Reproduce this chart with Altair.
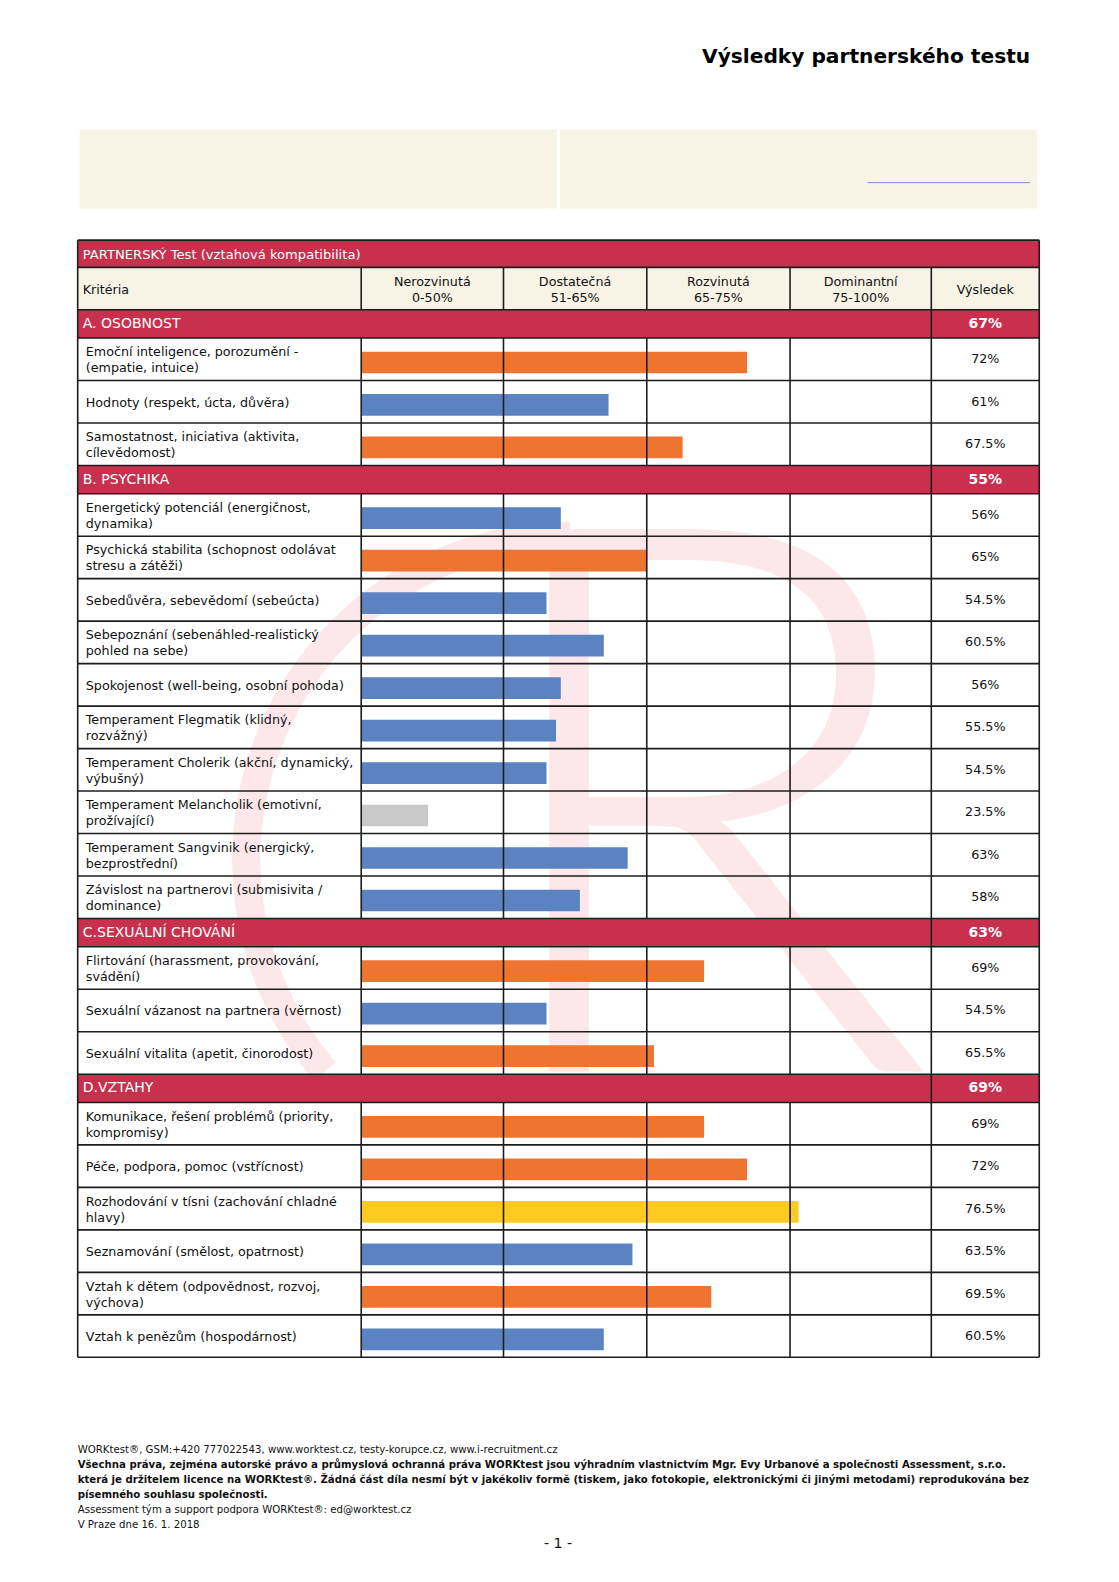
import altair as alt
import pandas as pd

# ---------------- data ----------------
report_title = "Výsledky partnerského testu"
table_title = "PARTNERSKÝ Test (vztahová kompatibilita)"
criteria_header = "Kritéria"
result_header = "Výsledek"
band_labels = ["Nerozvinutá\n0-50%", "Dostatečná\n51-65%", "Rozvinutá\n65-75%", "Dominantní\n75-100%"]
band_breaks = [0, 50, 65, 75, 100]

section_names = ["A. OSOBNOST", "B. PSYCHIKA", "C.SEXUÁLNÍ CHOVÁNÍ", "D.VZTAHY"]
section_scores = [67, 55, 63, 69]

criteria_A = [
    "Emoční inteligence, porozumění -\n(empatie, intuice)",
    "Hodnoty (respekt, úcta, důvěra)",
    "Samostatnost, iniciativa (aktivita,\ncílevědomost)",
]
scores_A = [72, 61, 67.5]

criteria_B = [
    "Energetický potenciál (energičnost,\ndynamika)",
    "Psychická stabilita (schopnost odolávat\nstresu a zátěži)",
    "Sebedůvěra, sebevědomí (sebeúcta)",
    "Sebepoznání (sebenáhled-realistický\npohled na sebe)",
    "Spokojenost (well-being, osobní pohoda)",
    "Temperament Flegmatik (klidný,\nrozvážný)",
    "Temperament Cholerik (akční, dynamický,\nvýbušný)",
    "Temperament Melancholik (emotivní,\nprožívající)",
    "Temperament Sangvinik (energický,\nbezprostřední)",
    "Závislost na partnerovi (submisivita /\ndominance)",
]
scores_B = [56, 65, 54.5, 60.5, 56, 55.5, 54.5, 23.5, 63, 58]

criteria_C = [
    "Flirtování (harassment, provokování,\nsvádění)",
    "Sexuální vázanost na partnera (věrnost)",
    "Sexuální vitalita (apetit, činorodost)",
]
scores_C = [69, 54.5, 65.5]

criteria_D = [
    "Komunikace, řešení problémů (priority,\nkompromisy)",
    "Péče, podpora, pomoc (vstřícnost)",
    "Rozhodování v tísni (zachování chladné\nhlavy)",
    "Seznamování (smělost, opatrnost)",
    "Vztah k dětem (odpovědnost, rozvoj,\nvýchova)",
    "Vztah k penězům (hospodárnost)",
]
scores_D = [69, 72, 76.5, 63.5, 69.5, 60.5]

footer_lines = [
    "WORKtest®, GSM:+420 777022543, www.worktest.cz, testy-korupce.cz, www.i-recruitment.cz",
    "Všechna práva, zejména autorské právo a průmyslová ochranná práva WORKtest jsou výhradním vlastnictvím Mgr. Evy Urbanové a společnosti Assessment, s.r.o.",
    "která je držitelem licence na WORKtest®. Žádná část díla nesmí být v jakékoliv formě (tiskem, jako fotokopie, elektronickými či jinými metodami) reprodukována bez",
    "písemného souhlasu společnosti.",
    "Assessment tým a support podpora WORKtest®: ed@worktest.cz",
    "V Praze dne 16. 1. 2018",
]
footer_bold = [False, True, True, True, False, False]
page_label = "- 1 -"

# ---------------- style / layout ----------------
K = 1.009          # compensates the slight down-scaling of the page photo
W, H = 1100, 1560
OFF = 8
FONT = "DejaVu Sans"
FOOT_FONT = "DejaVu Sans Condensed, Liberation Sans Narrow, DejaVu Sans"
CRIMSON = "#c8304e"
CREAM = "#f8f4e5"
LINE = "#1c1c1c"
BAR_COLORS = ["#c9c9c9", "#5b83c1", "#ee7432", "#fdca22"]
LH = 16


def px(v):
    return v * K - OFF


def fs(v):
    return round(v * K, 2)


def block_y(mid, text):
    # y of first line so that a multi-line block is centred on mid
    n = text.count("\n") + 1
    return mid - (n - 1) * LH / 2


TBL_L, TBL_R, RES_L = 77, 1030, 923
RES_C = (RES_L + TBL_R) / 2
TITLE_TOP, TITLE_H, HEAD_H, SEC_H, ROW_H = 238, 27, 42, 28, 42.1

yscale = alt.Scale(domain=[0, 2000], range=[px(0), px(2000)], nice=False, zero=False)
xscale = alt.Scale(domain=band_breaks, range=[px(358), px(499), px(641), px(783), px(923)],
                   nice=False, zero=False)

# build table rows
head_top = TITLE_TOP + TITLE_H
cur = head_top + HEAD_H
hlines = [TITLE_TOP, head_top, cur]
blocks = [(head_top, cur)]
sec_rows, item_rows = [], []
all_criteria = [criteria_A, criteria_B, criteria_C, criteria_D]
all_scores = [scores_A, scores_B, scores_C, scores_D]
for name, ssc, crit, scs in zip(section_names, section_scores, all_criteria, all_scores):
    sec_rows.append(dict(name=name, res=f"{ssc:g}%", top=cur, bot=cur + SEC_H, mid=cur + SEC_H / 2))
    cur += SEC_H
    hlines.append(cur)
    start = cur
    for lab, s in zip(crit, scs):
        mid = cur + ROW_H / 2
        item_rows.append(dict(label=lab, score=s, res=f"{s:g}%", top=cur, bot=cur + ROW_H,
                              mid=mid, ly=block_y(mid + 1, lab), btop=cur + 13.5, bbot=cur + 35))
        cur += ROW_H
        hlines.append(cur)
    blocks.append((start, cur))
table_bot = cur

sec_df = pd.DataFrame(sec_rows)
item_df = pd.DataFrame(item_rows)
hl_df = pd.DataFrame({"y": hlines})
vl_df = pd.DataFrame([dict(v=b, top=t, bot=bt) for (t, bt) in blocks for b in band_breaks[:-1]])
vres_df = pd.DataFrame([dict(v=band_breaks[-1], top=head_top, bot=table_bot)])
vedge_df = pd.DataFrame([dict(top=TITLE_TOP, bot=table_bot)])
band_df = pd.DataFrame({"label": band_labels,
                        "c": [(a + b) / 2 for a, b in zip(band_breaks[:-1], band_breaks[1:])],
                        "y": [block_y(head_top + HEAD_H / 2 + 1, t) for t in band_labels]})
one = pd.DataFrame({"k": [0]})

Y = lambda f: alt.Y(f, scale=yscale, axis=None)

layers = []

# watermark
WM = "#fce7ea"
layers.append(alt.Chart(one).mark_arc(color=WM, radius=335 * K, radius2=307 * K,
                                       theta=4.0, theta2=6.283).encode(
    x=alt.value(px(565)), y=alt.value(px(852))))
layers.append(alt.Chart(one).mark_text(text="R", font="Lato", fontWeight=300, fontSize=fs(760),
                                        color=WM, align="left", baseline="alphabetic").encode(
    x=alt.value(px(465)), y=alt.value(px(1062))))

# title
layers.append(alt.Chart(one).mark_text(text=report_title, font=FONT, fontWeight="bold", fontSize=fs(20),
                                        align="right", baseline="middle", color="#000").encode(
    x=alt.value(px(1021)), y=alt.value(px(56))))

# info box
layers.append(alt.Chart(one).mark_rect(color=CREAM).encode(
    x=alt.value(px(79)), x2=alt.value(px(552)), y=alt.value(px(128)), y2=alt.value(px(207))))
layers.append(alt.Chart(one).mark_rect(color=CREAM).encode(
    x=alt.value(px(555)), x2=alt.value(px(1028)), y=alt.value(px(128)), y2=alt.value(px(207))))
layers.append(alt.Chart(one).mark_rule(color="#8585e0", strokeWidth=1).encode(
    x=alt.value(px(860)), x2=alt.value(px(1021)), y=alt.value(px(181))))

# table backgrounds
layers.append(alt.Chart(one).mark_rect(color=CRIMSON).encode(
    x=alt.value(px(TBL_L)), x2=alt.value(px(TBL_R)), y=alt.value(px(TITLE_TOP)), y2=alt.value(px(head_top))))
layers.append(alt.Chart(one).mark_rect(color=CREAM).encode(
    x=alt.value(px(TBL_L)), x2=alt.value(px(TBL_R)), y=alt.value(px(head_top)), y2=alt.value(px(head_top + HEAD_H))))
layers.append(alt.Chart(sec_df).mark_rect(color=CRIMSON).encode(
    x=alt.value(px(TBL_L)), x2=alt.value(px(TBL_R)), y=Y("top:Q"), y2="bot:Q"))

# bars
layers.append(alt.Chart(item_df).mark_rect().encode(
    x=alt.X("score:Q", scale=xscale, axis=None), x2=alt.datum(0),
    y=Y("btop:Q"), y2="bbot:Q",
    color=alt.Color("score:Q", scale=alt.Scale(type="threshold", domain=[50, 65, 75], range=BAR_COLORS),
                    legend=None)))

# grid lines
layers.append(alt.Chart(hl_df).mark_rule(color=LINE, strokeWidth=1.6).encode(
    y=Y("y:Q"), x=alt.value(px(TBL_L)), x2=alt.value(px(TBL_R))))
layers.append(alt.Chart(vl_df).mark_rule(color=LINE, strokeWidth=1.6).encode(
    x=alt.X("v:Q", scale=xscale, axis=None), y=Y("top:Q"), y2="bot:Q"))
layers.append(alt.Chart(vres_df).mark_rule(color=LINE, strokeWidth=1.6).encode(
    x=alt.X("v:Q", scale=xscale, axis=None), y=Y("top:Q"), y2="bot:Q"))
for ex in (TBL_L, TBL_R):
    layers.append(alt.Chart(vedge_df).mark_rule(color=LINE, strokeWidth=1.6).encode(
        x=alt.value(px(ex)), y=Y("top:Q"), y2="bot:Q"))

# header texts
layers.append(alt.Chart(one).mark_text(text=table_title, font=FONT, fontSize=fs(13), color="white",
                                        align="left", baseline="middle").encode(
    x=alt.value(px(82)), y=alt.value(px(TITLE_TOP + TITLE_H / 2 + 1))))
layers.append(alt.Chart(one).mark_text(text=criteria_header, font=FONT, fontSize=fs(12.6), color="#111",
                                        align="left", baseline="middle").encode(
    x=alt.value(px(82)), y=alt.value(px(head_top + HEAD_H / 2 + 1))))
layers.append(alt.Chart(one).mark_text(text=result_header, font=FONT, fontSize=fs(12.6), color="#111",
                                        align="center", baseline="middle").encode(
    x=alt.value(px(RES_C)), y=alt.value(px(head_top + HEAD_H / 2 + 1))))
layers.append(alt.Chart(band_df).mark_text(font=FONT, fontSize=fs(12.6), color="#111", align="center",
                                            baseline="middle", lineBreak="\n", lineHeight=LH * K).encode(
    x=alt.X("c:Q", scale=xscale, axis=None), y=Y("y:Q"), text="label:N"))

# section texts
layers.append(alt.Chart(sec_df).mark_text(font=FONT, fontSize=fs(13.9), color="white", align="left",
                                           baseline="middle").encode(
    x=alt.value(px(82)), y=Y("mid:Q"), text="name:N"))
layers.append(alt.Chart(sec_df).mark_text(font=FONT, fontSize=fs(13.9), fontWeight="bold", color="white",
                                           align="center", baseline="middle").encode(
    x=alt.value(px(RES_C)), y=Y("mid:Q"), text="res:N"))

# item texts
layers.append(alt.Chart(item_df).mark_text(font=FONT, fontSize=fs(12.6), color="#111", align="left",
                                            baseline="middle", lineBreak="\n", lineHeight=LH * K).encode(
    x=alt.value(px(85)), y=Y("ly:Q"), text="label:N"))
layers.append(alt.Chart(item_df).mark_text(font=FONT, fontSize=fs(12.6), color="#111", align="center",
                                            baseline="middle").encode(
    x=alt.value(px(RES_C)), y=Y("mid:Q"), text="res:N"))

# footer
foot_df = pd.DataFrame({"t": footer_lines, "b": footer_bold,
                        "y": [1437 + 14.8 * i for i in range(len(footer_lines))]})
layers.append(alt.Chart(foot_df[~foot_df.b]).mark_text(font=FOOT_FONT, fontSize=fs(11.2), color="#111",
                                                        align="left", baseline="middle").encode(
    x=alt.value(px(77)), y=Y("y:Q"), text="t:N"))
layers.append(alt.Chart(foot_df[foot_df.b]).mark_text(font=FOOT_FONT, fontSize=fs(11.2), fontWeight="bold",
                                                       color="#111", align="left", baseline="middle").encode(
    x=alt.value(px(77)), y=Y("y:Q"), text="t:N"))
layers.append(alt.Chart(one).mark_text(text=page_label, font=FONT, fontSize=fs(14), color="#111",
                                        align="center", baseline="middle").encode(
    x=alt.value(px(553)), y=alt.value(px(1530))))

chart = alt.layer(*layers).properties(
    width=W, height=H, padding=0, autosize=alt.AutoSizeParams(type="none")
).configure_view(stroke=None)

chart.save("out.html", embed_options={"renderer": "svg", "actions": False})
